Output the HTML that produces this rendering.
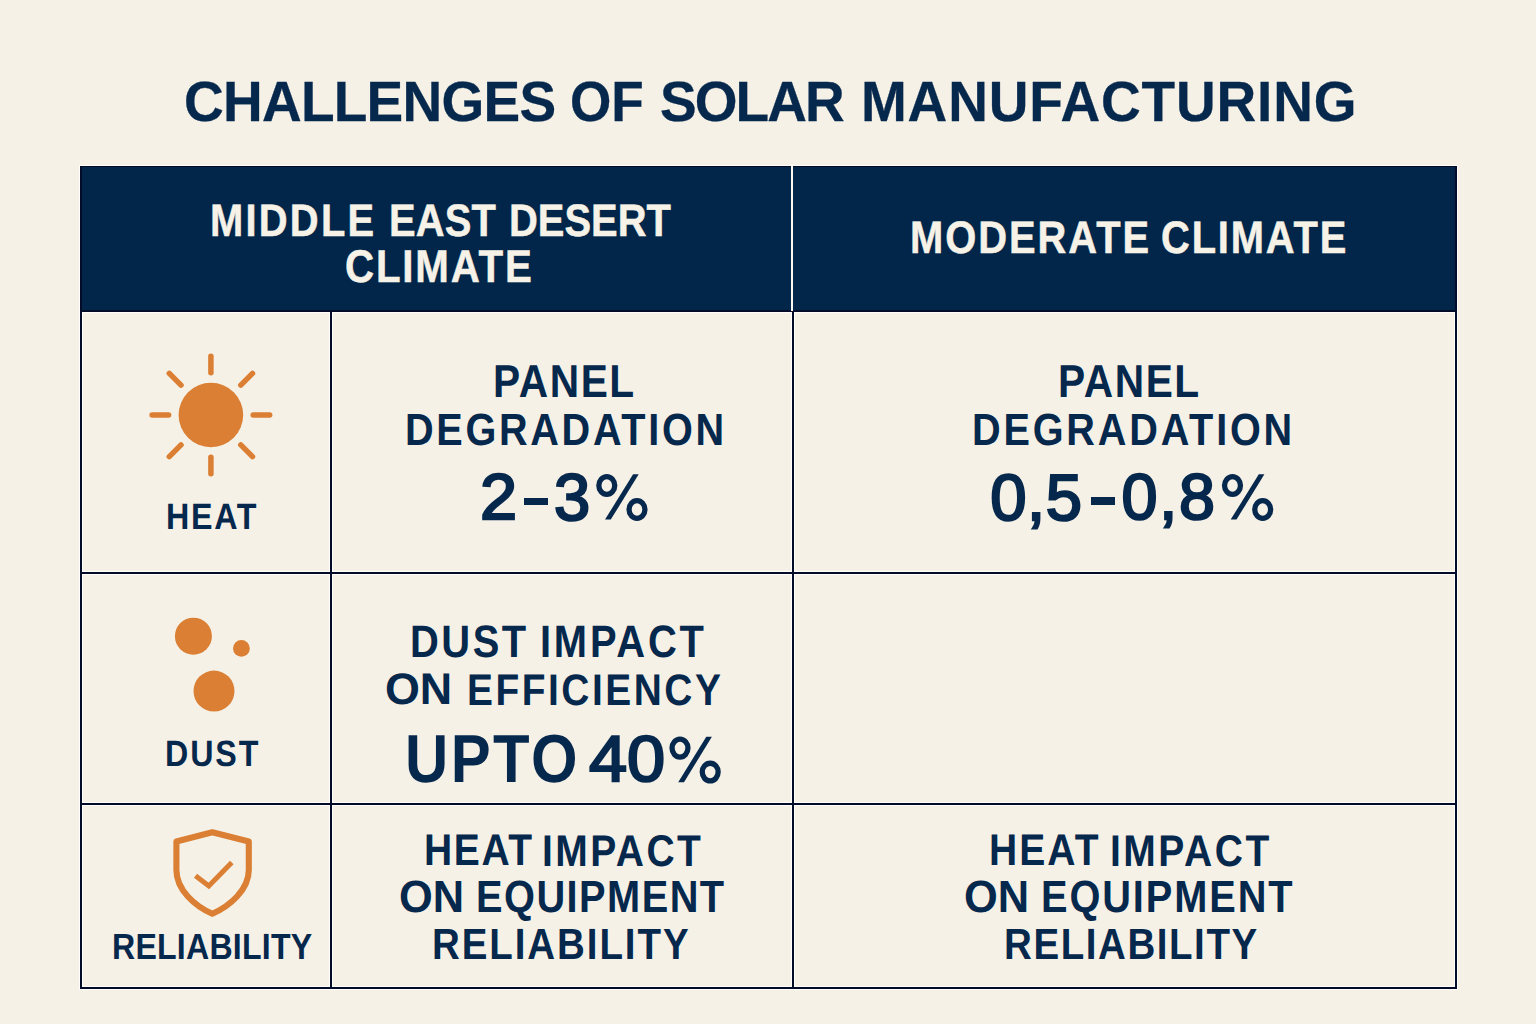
<!DOCTYPE html>
<html><head><meta charset="utf-8"><title>Challenges of Solar Manufacturing</title>
<style>
html,body{margin:0;padding:0;}
body{width:1536px;height:1024px;overflow:hidden;background:#f6f1e6;position:relative;font-family:"Liberation Sans",sans-serif;}
.t{position:absolute;white-space:nowrap;line-height:1;text-rendering:geometricPrecision;}
.r{position:absolute;}
.hl{position:absolute;background:#020b28;}
.hw{position:absolute;background:#fffefb;}
</style></head><body>
<!-- header band -->
<div class="r" style="left:80px;top:166px;width:1377px;height:145px;background:#01264a;"></div>
<div class="hl" style="left:80px;top:166px;width:1377px;height:1px;"></div>
<div class="hl" style="left:80px;top:310px;width:1377px;height:1.5px;"></div>
<div class="hw" style="left:791px;top:166px;width:2px;height:145px;background:#fbf8f2;"></div>
<!-- halos -->
<div class="hw" style="left:79px;top:165px;width:1379px;height:1px;"></div>
<div class="hw" style="left:79px;top:166px;width:1px;height:824px;"></div>
<div class="hw" style="left:1457px;top:166px;width:1px;height:824px;"></div>
<div class="hw" style="left:79px;top:989px;width:1379px;height:1px;"></div>
<div class="hw" style="left:82px;top:312px;width:1373px;height:1px;"></div>
<div class="hw" style="left:82px;top:571px;width:1373px;height:1px;"></div>
<div class="hw" style="left:82px;top:574px;width:1373px;height:1px;"></div>
<div class="hw" style="left:82px;top:802px;width:1373px;height:1px;"></div>
<div class="hw" style="left:82px;top:805px;width:1373px;height:1px;"></div>
<div class="hw" style="left:82px;top:986px;width:1373px;height:1px;"></div>
<div class="hw" style="left:329px;top:312px;width:1px;height:675px;"></div>
<div class="hw" style="left:332px;top:312px;width:1px;height:675px;"></div>
<div class="hw" style="left:791px;top:312px;width:1px;height:675px;"></div>
<div class="hw" style="left:794px;top:312px;width:1px;height:675px;"></div>
<div class="hw" style="left:82px;top:312px;width:1px;height:675px;"></div>
<div class="hw" style="left:1454px;top:312px;width:1px;height:675px;"></div>
<!-- grid lines -->
<div class="hl" style="left:80px;top:166px;width:2px;height:823px;"></div>
<div class="hl" style="left:1455px;top:166px;width:2px;height:823px;"></div>
<div class="hl" style="left:80px;top:987px;width:1377px;height:2px;"></div>
<div class="hl" style="left:80px;top:572px;width:1377px;height:2px;"></div>
<div class="hl" style="left:80px;top:803px;width:1377px;height:2px;"></div>
<div class="hl" style="left:330px;top:311px;width:2px;height:678px;"></div>
<div class="hl" style="left:792px;top:311px;width:2px;height:678px;"></div>
<!-- icons -->
<svg class="r" style="left:0;top:0" width="1536" height="1024" viewBox="0 0 1536 1024">
 <g fill="#da7f34" stroke="none">
  <circle cx="210.9" cy="415" r="32.3"/>
  <circle cx="193.4" cy="636.2" r="18.5"/>
  <circle cx="241.4" cy="648.4" r="8.4"/>
  <circle cx="214" cy="691.1" r="20.5"/>
 </g>
 <g stroke="#da7f34" stroke-width="5.5" stroke-linecap="round" fill="none">
  <g transform="translate(210.9 415)">
   <line x1="0" y1="-42.3" x2="0" y2="-58.8"/>
   <line x1="0" y1="42.3" x2="0" y2="58.8"/>
   <line x1="-42.3" y1="0" x2="-58.8" y2="0"/>
   <line x1="42.3" y1="0" x2="58.8" y2="0"/>
   <line x1="-29.9" y1="-29.9" x2="-41.6" y2="-41.6"/>
   <line x1="29.9" y1="-29.9" x2="41.6" y2="-41.6"/>
   <line x1="-29.9" y1="29.9" x2="-41.6" y2="41.6"/>
   <line x1="29.9" y1="29.9" x2="41.6" y2="41.6"/>
  </g>
 </g>
 <path d="M212.3 832.2 L176.4 841.5 L176.4 870 C176.4 890 195 906 212.3 913.8 C229.6 906 248.8 890 248.8 870 L248.8 841.5 Z" fill="none" stroke="#da7f34" stroke-width="6.1" stroke-linejoin="round"/>
 <path d="M195.5 875.7 L208.8 885.9 L231.8 862.4" fill="none" stroke="#da7f34" stroke-width="5" stroke-linecap="butt" stroke-linejoin="miter"/>
</svg>
<div class="t" id="title_0" style="left:183.80px;top:75.36px;font-weight:700;font-size:56.69px;letter-spacing:-0.76px;color:#06284d;-webkit-text-stroke:0.3px #06284d;transform:scaleX(0.97);transform-origin:0 0;">CHALLENGES</div>
<div class="t" id="title_1" style="left:570.40px;top:75.36px;font-weight:700;font-size:56.69px;letter-spacing:0.00px;color:#06284d;-webkit-text-stroke:0.3px #06284d;transform:scaleX(0.9377);transform-origin:0 0;">OF</div>
<div class="t" id="title_2" style="left:660.20px;top:75.36px;font-weight:700;font-size:56.69px;letter-spacing:-1.99px;color:#06284d;-webkit-text-stroke:0.3px #06284d;transform:scaleX(0.97);transform-origin:0 0;">SOLAR</div>
<div class="t" id="title_3" style="left:860.80px;top:75.36px;font-weight:700;font-size:56.69px;letter-spacing:0.84px;color:#06284d;-webkit-text-stroke:0.3px #06284d;transform:scaleX(0.97);transform-origin:0 0;">MANUFACTURING</div>
<div class="t" id="h1a_0" style="left:209.60px;top:197.53px;font-weight:700;font-size:45.35px;letter-spacing:2.54px;color:#f6f2e8;-webkit-text-stroke:0.5px #f6f2e8;transform:scaleX(0.88);transform-origin:0 0;">MIDDLE</div>
<div class="t" id="h1a_1" style="left:388.60px;top:197.53px;font-weight:700;font-size:45.35px;letter-spacing:0.21px;color:#f6f2e8;-webkit-text-stroke:0.5px #f6f2e8;transform:scaleX(0.88);transform-origin:0 0;">EAST</div>
<div class="t" id="h1a_2" style="left:509.00px;top:197.53px;font-weight:700;font-size:45.35px;letter-spacing:0.02px;color:#f6f2e8;-webkit-text-stroke:0.5px #f6f2e8;transform:scaleX(0.88);transform-origin:0 0;">DESERT</div>
<div class="t" id="h1b" style="left:345.00px;top:243.56px;font-weight:700;font-size:45.78px;letter-spacing:2.05px;color:#f6f2e8;-webkit-text-stroke:0.5px #f6f2e8;transform:scaleX(0.88);transform-origin:0 0;">CLIMATE</div>
<div class="t" id="h2_0" style="left:909.60px;top:214.63px;font-weight:700;font-size:45.35px;letter-spacing:2.23px;color:#f6f2e8;-webkit-text-stroke:0.5px #f6f2e8;transform:scaleX(0.88);transform-origin:0 0;">MODERATE</div>
<div class="t" id="h2_1" style="left:1161.20px;top:214.63px;font-weight:700;font-size:45.35px;letter-spacing:2.09px;color:#f6f2e8;-webkit-text-stroke:0.5px #f6f2e8;transform:scaleX(0.88);transform-origin:0 0;">CLIMATE</div>
<div class="t" id="p1" style="left:493.00px;top:357.60px;font-weight:700;font-size:46.22px;letter-spacing:1.81px;color:#06284d;transform:scaleX(0.88);transform-origin:0 0;">PANEL</div>
<div class="t" id="d1" style="left:404.90px;top:406.89px;font-weight:700;font-size:45.06px;letter-spacing:3.06px;color:#06284d;transform:scaleX(0.88);transform-origin:0 0;">DEGRADATION</div>
<div class="t" id="v1a" style="left:479.50px;top:464.87px;font-weight:400;font-size:64.49px;letter-spacing:0.00px;color:#06284d;-webkit-text-stroke:2.3px #06284d;transform:scaleX(1.0342);transform-origin:0 0;">2</div>
<div class="t" id="v1b" style="left:554.00px;top:464.87px;font-weight:400;font-size:66.21px;letter-spacing:0.00px;color:#06284d;-webkit-text-stroke:2.3px #06284d;transform:scaleX(0.9833);transform-origin:0 0;">3</div>
<div class="t" id="p2" style="left:1058.00px;top:357.60px;font-weight:700;font-size:46.22px;letter-spacing:1.81px;color:#06284d;transform:scaleX(0.88);transform-origin:0 0;">PANEL</div>
<div class="t" id="d2" style="left:971.60px;top:406.89px;font-weight:700;font-size:45.06px;letter-spacing:3.19px;color:#06284d;transform:scaleX(0.88);transform-origin:0 0;">DEGRADATION</div>
<div class="t" id="v2a" style="left:990.30px;top:465.38px;font-weight:400;font-size:65.21px;letter-spacing:0.50px;color:#06284d;-webkit-text-stroke:2.3px #06284d;">0,5</div>
<div class="t" id="v2b" style="left:1121.60px;top:465.48px;font-weight:400;font-size:64.64px;letter-spacing:1.80px;color:#06284d;-webkit-text-stroke:2.3px #06284d;">0,8</div>
<div class="t" id="di_0" style="left:410.20px;top:619.14px;font-weight:700;font-size:45.35px;letter-spacing:2.85px;color:#06284d;transform:scaleX(0.88);transform-origin:0 0;">DUST</div>
<div class="t" id="di_1" style="left:539.80px;top:619.14px;font-weight:700;font-size:45.35px;letter-spacing:3.16px;color:#06284d;transform:scaleX(0.88);transform-origin:0 0;">IMPACT</div>
<div class="t" id="oe_0" style="left:385.00px;top:668.03px;font-weight:700;font-size:44.19px;letter-spacing:0.00px;color:#06284d;transform:scaleX(1.0144);transform-origin:0 0;">ON</div>
<div class="t" id="oe_1" style="left:466.60px;top:668.53px;font-weight:700;font-size:44.19px;letter-spacing:2.86px;color:#06284d;transform:scaleX(0.88);transform-origin:0 0;">EFFICIENCY</div>
<div class="t" id="up1" style="left:405.20px;top:725.45px;font-weight:700;font-size:68.03px;letter-spacing:2.79px;color:#06284d;transform:scaleX(0.88);transform-origin:0 0;">UPTO</div>
<div class="t" id="up2" style="left:589.00px;top:727.45px;font-weight:400;font-size:64.78px;letter-spacing:0.00px;color:#06284d;-webkit-text-stroke:2.3px #06284d;transform:scaleX(1.0574);transform-origin:0 0;">40</div>
<div class="t" id="hi1_0" style="left:423.80px;top:828.51px;font-weight:700;font-size:44.33px;letter-spacing:1.85px;color:#06284d;transform:scaleX(0.88);transform-origin:0 0;">HEAT</div>
<div class="t" id="hi1_1" style="left:541.60px;top:829.51px;font-weight:700;font-size:44.33px;letter-spacing:2.77px;color:#06284d;transform:scaleX(0.88);transform-origin:0 0;">IMPACT</div>
<div class="t" id="oq1_0" style="left:399.00px;top:874.37px;font-weight:700;font-size:45.20px;letter-spacing:0.00px;color:#06284d;transform:scaleX(0.9598);transform-origin:0 0;">ON</div>
<div class="t" id="oq1_1" style="left:476.00px;top:874.07px;font-weight:700;font-size:45.20px;letter-spacing:1.67px;color:#06284d;transform:scaleX(0.88);transform-origin:0 0;">EQUIPMENT</div>
<div class="t" id="re1" style="left:432.10px;top:923.30px;font-weight:700;font-size:43.75px;letter-spacing:2.18px;color:#06284d;transform:scaleX(0.88);transform-origin:0 0;">RELIABILITY</div>
<div class="t" id="hi2_0" style="left:989.20px;top:828.51px;font-weight:700;font-size:44.33px;letter-spacing:2.34px;color:#06284d;transform:scaleX(0.88);transform-origin:0 0;">HEAT</div>
<div class="t" id="hi2_1" style="left:1110.40px;top:829.51px;font-weight:700;font-size:44.33px;letter-spacing:2.86px;color:#06284d;transform:scaleX(0.88);transform-origin:0 0;">IMPACT</div>
<div class="t" id="oq2_0" style="left:964.00px;top:874.37px;font-weight:700;font-size:45.20px;letter-spacing:0.00px;color:#06284d;transform:scaleX(0.9598);transform-origin:0 0;">ON</div>
<div class="t" id="oq2_1" style="left:1041.00px;top:874.07px;font-weight:700;font-size:45.20px;letter-spacing:2.16px;color:#06284d;transform:scaleX(0.88);transform-origin:0 0;">EQUIPMENT</div>
<div class="t" id="re2" style="left:1004.00px;top:923.30px;font-weight:700;font-size:43.75px;letter-spacing:1.79px;color:#06284d;transform:scaleX(0.88);transform-origin:0 0;">RELIABILITY</div>
<div class="t" id="lh" style="left:165.70px;top:498.64px;font-weight:700;font-size:36.63px;letter-spacing:1.93px;color:#06284d;transform:scaleX(0.88);transform-origin:0 0;">HEAT</div>
<div class="t" id="ld" style="left:165.00px;top:735.94px;font-weight:700;font-size:36.63px;letter-spacing:2.12px;color:#06284d;transform:scaleX(0.88);transform-origin:0 0;">DUST</div>
<div class="t" id="lr" style="left:111.80px;top:928.86px;font-weight:700;font-size:36.48px;letter-spacing:0.26px;color:#06284d;transform:scaleX(0.88);transform-origin:0 0;">RELIABILITY</div>
<div class="r" style="left:524.2px;top:497.5px;width:24.2px;height:7.8px;background:#06284d;"></div>
<div class="r" style="left:1091.2px;top:497.2px;width:24.2px;height:8.2px;background:#06284d;"></div>
<svg class="r" style="left:0;top:0" width="1536" height="1024" viewBox="0 0 1536 1024"><g transform="translate(596.2 473.9)"><ellipse cx="10.6" cy="11.6" rx="7.95" ry="8.95" fill="none" stroke="#06284d" stroke-width="5.3"/><ellipse cx="40.8" cy="35.6" rx="7.95" ry="8.85" fill="none" stroke="#06284d" stroke-width="5.3"/><path d="M36.9 0.3 L42.5 0.3 L14.6 45.7 L8.8 45.7 Z" fill="#06284d"/></g><g transform="translate(1221.9 473.9)"><ellipse cx="10.6" cy="11.6" rx="7.95" ry="8.95" fill="none" stroke="#06284d" stroke-width="5.3"/><ellipse cx="40.8" cy="35.6" rx="7.95" ry="8.85" fill="none" stroke="#06284d" stroke-width="5.3"/><path d="M36.9 0.3 L42.5 0.3 L14.6 45.7 L8.8 45.7 Z" fill="#06284d"/></g><g transform="translate(669.4 736.5)"><ellipse cx="10.6" cy="11.6" rx="7.95" ry="8.95" fill="none" stroke="#06284d" stroke-width="5.3"/><ellipse cx="40.8" cy="35.6" rx="7.95" ry="8.85" fill="none" stroke="#06284d" stroke-width="5.3"/><path d="M36.9 0.3 L42.5 0.3 L14.6 45.7 L8.8 45.7 Z" fill="#06284d"/></g></svg>
</body></html>
